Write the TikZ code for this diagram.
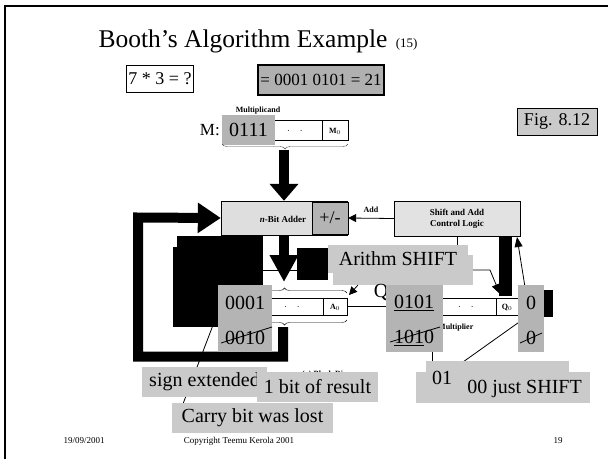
\documentclass[tikz,border=0pt]{standalone}
\usepackage{fontspec}
\setmainfont{Liberation Serif}
\usetikzlibrary{arrows.meta,decorations.pathreplacing}
\definecolor{answergray}{RGB}{176,176,176}
\definecolor{labelgray}{RGB}{202,202,202}
\definecolor{patchgray}{RGB}{180,180,180}
\definecolor{addergray}{RGB}{222,222,222}
\definecolor{ctrlgray}{RGB}{226,226,226}
\tikzset{
  big/.style={font=\fontsize{20}{20}\selectfont},
  mid/.style={font=\fontsize{17}{17}\selectfont},
  smallbold/.style={font=\fontsize{8}{8}\selectfont\bfseries},
  graypatch/.style={fill=patchgray,inner sep=0pt},
  lbl/.style={fill=labelgray,inner sep=0pt,big},
  blockarrow/.style={line width=10pt,-{Triangle[width=28pt,length=17pt]}},
  regbox/.style={draw,semithick,inner sep=0pt}
}
\begin{document}
\begin{tikzpicture}[x=1pt,y=-1pt,every node/.style={inner sep=2pt}]
\useasboundingbox (0,0) rectangle (608,459);
% slide frame
\draw[line width=2.5pt] (5,459) -- (5,6) -- (608,6);
% title
\node[anchor=base,font=\fontsize{25.5}{25.5}\selectfont] (title) at (243,47) {Booth's Algorithm Example};
\node[anchor=base west,font=\fontsize{13}{13}\selectfont] (nr) at ([xshift=4pt]title.base east) {(15)};
\node[draw,thick,minimum width=60pt,minimum height=27pt,font=\fontsize{18}{18}\selectfont] (quest) at (160,78.5) {7 * 3 = ?};
\node[draw,line width=2pt,fill=answergray,minimum width=118pt,minimum height=30pt,mid] (answer) at (321,80) {= 0001 0101 = 21};
\node[draw,fill=labelgray,minimum width=80pt,minimum height=27pt,font=\fontsize{18}{18}\selectfont] (fig) at (557,121.5) {Fig. 8.12};
% multiplicand register
\node[smallbold] (mcand) at (258,111) {Multiplicand};
\node[regbox,minimum width=126pt,minimum height=20pt] (mreg) at (285,130) {};
\draw[semithick] (322,120) -- (322,140);
\node (mdots) at (295,131) {$\cdot\quad\cdot$};
\node[smallbold] (mzero) at (335,131) {M$_0$};
\node[graypatch,minimum width=53pt,minimum height=30pt,big] (mval) at (248.5,130) {0111};
\node[anchor=east,mid] (mlbl) at (222,130) {M:};
\draw[decorate,decoration={brace,mirror,amplitude=5pt},gray!60!black] (222,144) -- (348,144);
\coordinate (mtip) at (284,150);
% adder and control
\node[draw,fill=addergray,minimum width=126pt,minimum height=34pt] (adder) at (284,218) {};
\node[font=\fontsize{9}{9}\selectfont\bfseries] (addtxt) at (283,219) {\textit{n}-Bit Adder};
\node[draw,fill=patchgray,minimum width=36pt,minimum height=32pt,font=\fontsize{18}{18}\selectfont] (pm) at (330,218) {+/-};
\node[draw,fill=ctrlgray,minimum width=126pt,minimum height=35pt,align=center,font=\fontsize{9}{11}\selectfont\bfseries] (ctrl) at (457,218.5) {Shift and Add\\Control Logic};
\draw[thick,-{Triangle[width=8pt,length=8pt]}] (ctrl.west) -- (pm.east) node[midway,above=3pt,smallbold] {Add};
\draw[blockarrow] (mtip) -- (adder.north);
% feedback path
\draw[line width=10pt,miter limit=4,-{Triangle[width=29pt,length=23pt]}] (283,327) -- (283,356.5) -- (138,356.5) -- (138,217.5) -- (adder.west);
\fill (177,236) rectangle (263,327);
\fill (173,247) rectangle (263,327);
\fill (297,248) rectangle (328,280);
\draw[line width=10pt,-{Triangle[width=27pt,length=27pt]}] (adder.south) -- (284,282);
\draw[semithick] (263,270) -- (297,270);
% shift label
\node[fill=labelgray,minimum width=140pt,minimum height=30pt] (shiftlo) at (403,270) {};
\node[lbl,minimum width=140pt,minimum height=28pt] (shift) at (398,259) {Arithm SHIFT};
\draw[thick,-{Triangle[width=8pt,length=8pt]}] ([xshift=25pt]shiftlo.south west) -- (349,295);
\draw[thick,-{Triangle[width=9pt,length=10pt]}] (shiftlo.east) -- (490,270) -- (500,294);
\draw[semithick] (ctrl.south) -- (457,245);
\fill (499,236) rectangle (512,296);
\draw[thick,-{Triangle[width=8pt,length=10pt]}] (525,287) -- (517,237);
% registers A and Q
\node[regbox,minimum width=125pt,minimum height=17pt] (areg) at (284.5,306.5) {};
\draw[semithick] (323,298) -- (323,315);
\node (adots) at (292,307) {$\cdot\quad\cdot$};
\node[smallbold] (azero) at (335,307) {A$_0$};
\draw[decorate,decoration={brace,amplitude=5pt}] (222,293) -- (347,293);
\draw[decorate,decoration={brace,mirror,amplitude=5pt}] (222,320) -- (347,320);
\node[regbox,minimum width=128pt,minimum height=17pt] (qreg) at (454,306.5) {};
\draw[semithick] (496,298) -- (496,315);
\node (qdots) at (466,307) {$\cdot\quad\cdot$};
\node[smallbold] (qzero) at (507,307) {Q$_0$};
\draw[semithick] (areg.east) -- (qreg.west);
\node[big] (qlbl) at (381,292) {Q};
\node[smallbold,anchor=west] (mplier) at (436,328) {Multiplier};
% value patches
\node[graypatch,minimum width=54pt,minimum height=67pt] (apatch) at (245,318.5) {};
\node[big] (anew) at (245,303) {0001};
\node[big] (aold) at (245,338) {0010};
\draw[thick] (221,343) -- (272,327);
\node[graypatch,minimum width=57pt,minimum height=67pt] (qpatch) at (414.5,318.5) {};
\node[big] (qnew) at (414,303) {\underline{0101}};
\node[big] (qold) at (414,338) {\underline{101}0};
\draw[thick] (390,342) -- (440,327);
\node[graypatch,minimum width=26pt,minimum height=67pt] (q1patch) at (531,318.5) {};
\node[big] (q1new) at (531,303) {0};
\node[big] (q1old) at (531,338) {0};
\draw[thick] (520,343) -- (542,333);
\fill (544,290) rectangle (553,317);
% comments
\draw[thick,-{Stealth[length=6pt]}] (178,417) -- (218,312);
\draw[thick] (q1patch.west |- 0,323) -- (463,362);
\draw[thick] (432,352) -- (432,362);
\node[smallbold,anchor=west] (blockcap) at (300,375) {(a) Block Diagram};
\node[lbl,minimum width=125pt,minimum height=30pt] (sign) at (204.5,382) {sign extended};
\node[lbl,minimum width=121pt,minimum height=30pt] (onebit) at (317.5,387) {1 bit of result};
\node[lbl,minimum width=161pt,minimum height=30pt] (carry) at (252.5,418) {Carry bit was lost};
\node[fill=labelgray,minimum width=143pt,minimum height=14pt] (strip) at (497.5,368) {};
\node[fill=labelgray,minimum width=174pt,minimum height=31pt] (rule) at (503,387.5) {};
\node[big,anchor=east] (ruletxt) at (584,389) {00 just SHIFT};
\node[big] (rulenew) at (442,378) {01};
% footer
\node[font=\fontsize{9}{9}\selectfont] (date) at (84,441) {19/09/2001};
\node[font=\fontsize{9}{9}\selectfont] (copy) at (239,441) {Copyright Teemu Kerola 2001};
\node[font=\fontsize{9}{9}\selectfont] (page) at (558,441) {19};
\end{tikzpicture}
\end{document}
